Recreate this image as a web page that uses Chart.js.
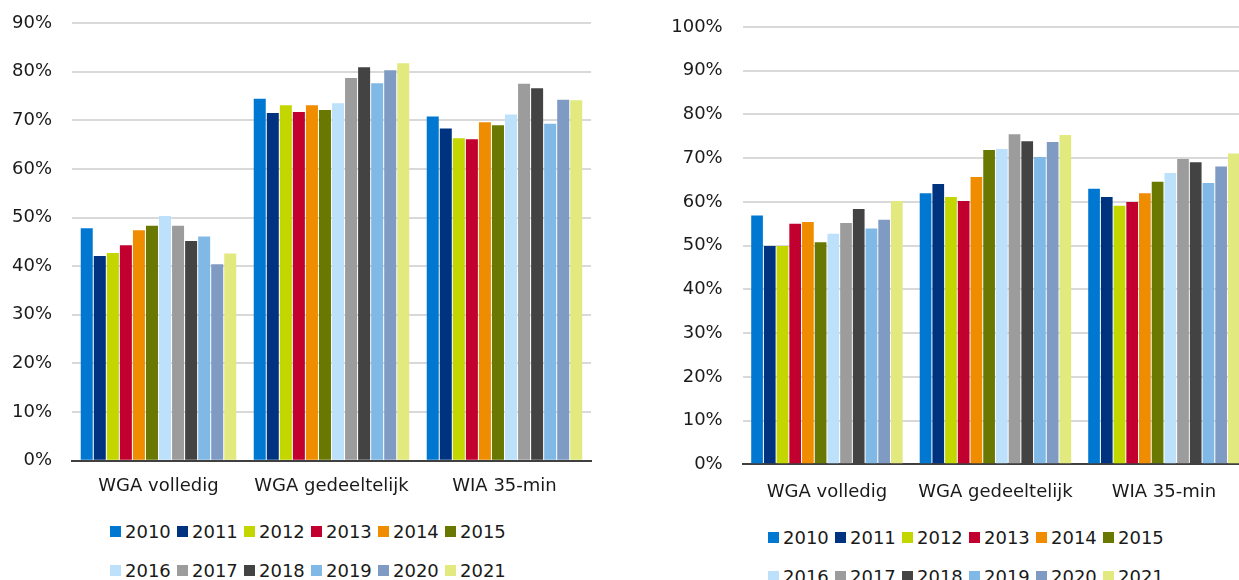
<!DOCTYPE html>
<html>
<head>
<meta charset="utf-8">
<script src="https://cdn.jsdelivr.net/npm/chart.js@4"></script>
<style>
  html, body { margin: 0; padding: 0; background: #fff; overflow: hidden; width: 1239px; height: 580px; }
  .wrap { position: absolute; }
  .legend { position: absolute; display: flex; flex-wrap: wrap; font: 18px "DejaVu Sans", Verdana, sans-serif; color: #1a1a1a; }
  .legend .item { display: flex; align-items: center; width: 67px; height: 39px; }
  .legend i { display: inline-block; width: 11px; height: 11px; margin-right: 4px; }
</style>
</head>
<body>
<div class="wrap" style="left:0;top:0;width:620px;height:510px"><canvas id="chartLeft"></canvas></div>
<div class="wrap" style="left:620px;top:0;width:640px;height:515px"><canvas id="chartRight"></canvas></div>
<div class="legend" id="legendLeft" style="left:110px;top:512px;width:402px"></div>
<div class="legend" id="legendRight" style="left:768px;top:518px;width:402px"></div>

<script>
const categories = ["WGA volledig", "WGA gedeeltelijk", "WIA 35-min"];
const years = ["2010", "2011", "2012", "2013", "2014", "2015", "2016", "2017", "2018", "2019", "2020", "2021"];
const colors = ["#0078d2", "#00337f", "#c3d600", "#c2002f", "#ef8c00", "#687800",
                "#bde1fb", "#9c9c9c", "#434343", "#80b9e6", "#809bc3", "#e2e97f"];

// left chart (percent)
const leftVolledig     = [47.8, 42.1, 42.7, 44.3, 47.4, 48.3, 50.3, 48.3, 45.2, 46.1, 40.4, 42.6];
const leftGedeeltelijk = [74.4, 71.5, 73.1, 71.7, 73.1, 72.1, 73.5, 78.7, 80.9, 77.6, 80.3, 81.7];
const leftWia35        = [70.8, 68.3, 66.3, 66.1, 69.6, 69.0, 71.2, 77.5, 76.6, 69.3, 74.2, 74.1];
const leftTicks = [0, 10, 20, 30, 40, 50, 60, 70, 80, 90];

// right chart (percent)
const rightVolledig     = [56.9, 49.9, 49.9, 55.0, 55.4, 50.8, 52.7, 55.2, 58.4, 53.9, 55.9, 60.2];
const rightGedeeltelijk = [62.0, 64.1, 61.1, 60.2, 65.7, 71.9, 72.1, 75.5, 73.9, 70.3, 73.7, 75.3];
const rightWia35        = [63.0, 61.1, 59.1, 60.0, 62.0, 64.6, 66.6, 69.8, 69.1, 64.3, 68.1, 71.1];
const rightTicks = [0, 10, 20, 30, 40, 50, 60, 70, 80, 90, 100];

const font = { family: "'DejaVu Sans', Verdana, sans-serif", size: 18 };

function makeChart(id, groups, ticks, opts) {
  return new Chart(document.getElementById(id), {
    type: "bar",
    data: {
      labels: categories,
      datasets: years.map((y, i) => ({
        label: y,
        data: groups.map(g => g[i]),
        backgroundColor: colors[i],
        borderWidth: 0,
        barPercentage: 0.92,
        categoryPercentage: 0.905
      }))
    },
    options: {
      responsive: true,
      maintainAspectRatio: false,
      animation: false,
      layout: { padding: opts.padding },
      plugins: { legend: { display: false }, tooltip: { enabled: false } },
      scales: {
        x: {
          grid: { display: false },
          border: { color: "#404040", width: 2 },
          ticks: { font, color: "#1a1a1a", padding: opts.xPad, maxRotation: 0 },
          afterFit: s => { s.height = opts.xHeight; }
        },
        y: {
          min: 0,
          max: ticks[ticks.length - 1],
          afterBuildTicks: s => { s.ticks = ticks.map(v => ({ value: v })); },
          grid: { color: "#d9d9d9", lineWidth: 2, drawTicks: false },
          border: { display: false },
          ticks: { font, color: "#1a1a1a", padding: 20, callback: v => v + "%" },
          // fixed axis width; drop the label overhang so layout padding sets the top
          afterFit: s => { s.width = opts.yWidth; s.paddingTop = 0; s.paddingBottom = 0; }
        }
      }
    }
  });
}

makeChart("chartLeft", [leftVolledig, leftGedeeltelijk, leftWia35], leftTicks,
  { padding: { top: 23, right: 29, left: 0, bottom: 0 }, yWidth: 72, xHeight: 49.3, xPad: 7 });
makeChart("chartRight", [rightVolledig, rightGedeeltelijk, rightWia35], rightTicks,
  { padding: { top: 27, right: 11.8, left: 0, bottom: 0 }, yWidth: 122.7, xHeight: 50.7, xPad: 9 });

/* LEGENDS */
for (const id of ["legendLeft", "legendRight"]) {
  document.getElementById(id).innerHTML =
    years.map((y, i) =>
      `<span class="item"><i style="background:${colors[i]}"></i>${y}</span>`
    ).join("");
}
</script>
</body>
</html>
